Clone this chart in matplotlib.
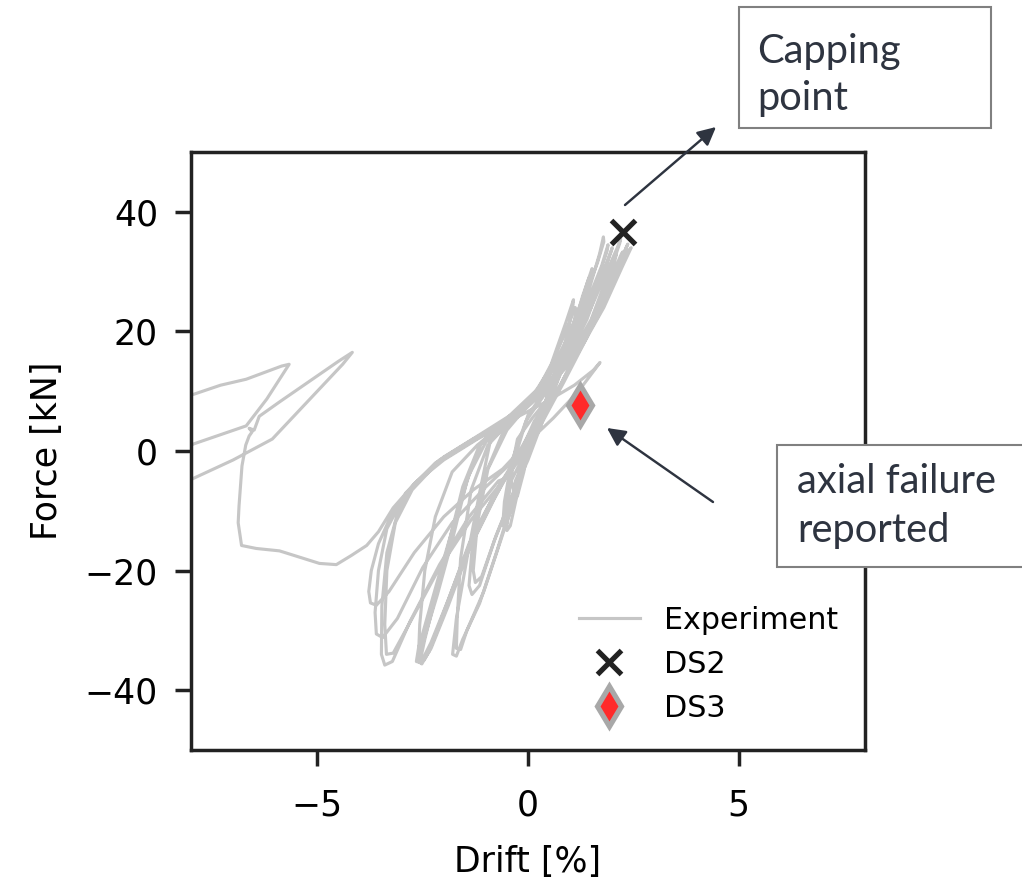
import numpy as np
import matplotlib
matplotlib.use('Agg')
import matplotlib.pyplot as plt
from matplotlib.patches import Rectangle

# cyclic test, one list per loop (drift in %, force in kN)
loop_drift = [
    [0.0, 0.2, 0.4, 0.5, 0.52, 0.4, 0.15, -0.1, -0.25, -0.3, -0.25, -0.1, 0.0],
    [0.0, 0.25, 0.45, 0.6, 0.62, 0.45, 0.1, -0.25, -0.45, -0.5, -0.42, -0.2, 0.0],
    [0.0, 0.35, 0.7, 0.9, 0.95, 0.85, 0.5, 0.0, -0.35, -0.48, -0.5, -0.42, -0.2, 0.0],
    [0.0, 0.3, 0.65, 0.85, 0.9, 0.8, 0.45, -0.05, -0.4, -0.56, -0.6, -0.5, -0.25, 0.0],
    [0.0, 0.35, 0.7, 0.95, 1.07, 1.08, 0.9, 0.55, 0.1, -0.5, -0.95, -1.2, -1.3, -1.25,
     -1.1, -0.75, -0.35, 0.0],
    [0.0, 0.4, 0.8, 1.05, 1.15, 1.12, 0.9, 0.5, 0.0, -0.6, -1.05, -1.3, -1.4, -1.33,
     -1.15, -0.8, -0.4, -0.1],
    [-0.1, 0.35, 0.8, 1.15, 1.4, 1.52, 1.53, 1.35, 0.95, 0.4, -0.3, -0.9, -1.15, -1.45,
     -1.7, -1.79, -1.7, -1.55, -1.15, -0.75, -0.4],
    [-0.3, 0.2, 0.7, 1.05, 1.3, 1.45, 1.47, 1.3, 0.9, 0.35, -0.35, -0.95, -1.35, -1.6,
     -1.68, -1.7, -1.6, -1.45, -1.05, -0.65, -0.3],
    [-0.4, 0.1, 0.6, 1.05, 1.45, 1.7, 1.79, 1.8, 1.65, 1.25, 0.75, 0.25, -0.5, -1.1,
     -1.45, -1.8, -2.15, -2.45, -2.6, -2.52, -2.35, -1.95, -1.45, -0.85],
    [-0.85, -0.2, 0.4, 0.9, 1.35, 1.7, 1.88, 1.9, 1.75, 1.3, 0.8, 0.3, -0.45, -1.15,
     -1.55, -1.9, -2.2, -2.45, -2.55, -2.47, -2.3, -1.9, -1.4, -0.8],
    [-0.8, -0.2, 0.4, 0.9, 1.4, 1.8, 1.97, 2.0, 1.85, 1.4, 0.9, 0.35, -0.4, -1.2, -1.8,
     -2.2, -2.45, -2.57, -2.6, -2.5, -2.3, -1.9, -1.3, -0.7],
    [-0.7, -0.1, 0.5, 1.0, 1.5, 1.9, 2.12, 2.2, 2.18, 2.0, 1.6, 1.0, 0.4, -0.3, -1.0,
     -1.4, -1.75, -2.1, -2.4, -2.6, -2.65, -2.55, -2.35, -1.95, -1.4, -0.7],
    [-0.7, 0.0, 0.7, 1.3, 1.8, 2.15, 2.33, 2.37, 2.2, 1.7, 1.1, 0.4, -0.4, -1.3, -2.1,
     -2.7, -3.1, -3.35, -3.47, -3.48, -3.4, -3.22, -2.8, -2.1, -1.4, -0.7],
    [-0.5, 0.2, 0.85, 1.4, 1.85, 2.15, 2.25, 2.22, 2.0, 1.5, 0.9, 0.3, -0.5, -1.35,
     -2.15, -2.75, -3.15, -3.35, -3.4, -3.36, -3.2, -2.75, -2.1, -1.35, -0.65],
    [-0.6, 0.1, 0.8, 1.4, 1.8, 2.05, 2.1, 1.95, 1.5, 0.9, 0.3, -0.5, -1.4, -2.2, -2.9,
     -3.35, -3.55, -3.63, -3.6, -3.45, -3.1, -2.5, -1.8, -1.0, -0.4],
    [-0.4, 0.3, 1.0, 1.6, 2.1, 2.38, 2.45, 2.25, 1.8, 1.2, 0.5, -0.3, -1.2, -2.0, -2.7,
     -3.2, -3.55, -3.72, -3.78, -3.74, -3.6, -3.3, -2.7, -2.0, -1.3, -0.6],
]
loop_force = [
    [0.0, 4.0, 8.0, 10.0, 9.5, 7.5, 5.0, 1.0, -5.0, -8.0, -7.5, -3.5, 0.0],
    [0.0, 4.5, 9.0, 12.0, 11.3, 8.5, 5.5, 2.0, -5.0, -9.5, -9.0, -4.0, 0.0],
    [0.0, 6.0, 12.0, 16.5, 17.5, 16.0, 11.0, 6.0, -2.0, -9.0, -13.3, -12.5, -5.5, 0.0],
    [0.0, 5.0, 11.0, 15.5, 16.5, 15.0, 10.0, 5.0, -2.0, -8.5, -12.5, -12.0, -6.0, 0.0],
    [0.0, 6.0, 13.0, 20.0, 24.5, 25.3, 21.5, 14.5, 8.5, 3.5, -3.0, -12.0, -20.0, -22.0,
     -21.0, -14.0, -7.0, -1.5],
    [-1.5, 6.0, 13.5, 20.0, 23.5, 24.0, 20.0, 13.5, 8.0, 3.0, -4.5, -14.0, -22.5, -24.0,
     -22.5, -15.0, -8.0, -3.0],
    [-2.0, 6.0, 14.5, 22.0, 28.0, 30.5, 30.0, 26.5, 19.0, 11.5, 6.0, 1.5, -7.0, -18.0,
     -28.0, -34.0, -34.3, -31.5, -25.5, -17.0, -9.0],
    [-5.0, 3.0, 12.5, 20.0, 26.0, 29.0, 28.5, 25.0, 18.0, 11.0, 5.5, 1.0, -6.5, -18.0,
     -28.0, -33.0, -33.2, -30.0, -23.5, -15.0, -7.5],
    [-5.0, 2.0, 10.0, 18.5, 27.0, 33.0, 35.8, 35.0, 31.5, 24.0, 16.0, 10.5, 5.5, 1.5,
     -5.0, -15.0, -24.0, -31.0, -35.2, -35.6, -33.5, -26.5, -17.0, -8.5],
    [-8.5, -0.5, 7.5, 15.0, 23.0, 29.5, 33.5, 34.5, 31.0, 23.0, 15.5, 10.5, 5.5, 1.0,
     -6.0, -16.0, -24.5, -31.5, -34.8, -35.0, -33.0, -26.0, -16.5, -8.0],
    [-8.0, 0.0, 7.5, 15.0, 23.0, 30.0, 33.3, 34.0, 31.0, 22.0, 15.0, 10.5, 5.5, 1.0,
     -3.5, -11.0, -20.0, -29.0, -34.5, -34.8, -32.0, -25.0, -14.0, -6.0],
    [-6.0, 1.0, 9.0, 16.5, 24.0, 30.5, 34.0, 35.5, 34.8, 31.0, 23.0, 15.0, 10.0, 5.5,
     1.5, -4.0, -12.0, -20.5, -28.0, -33.0, -35.2, -35.4, -33.5, -26.0, -15.5, -6.0],
    [-6.0, 1.5, 10.0, 18.0, 25.0, 30.5, 34.0, 34.6, 32.0, 23.0, 15.5, 10.0, 5.5, 2.0,
     -1.5, -5.5, -10.5, -17.0, -26.0, -34.0, -35.8, -35.2, -28.5, -19.0, -11.0, -5.0],
    [-4.5, 3.0, 11.5, 19.0, 26.0, 31.0, 33.3, 33.0, 29.5, 21.5, 14.5, 9.5, 5.0, 1.5,
     -2.0, -6.5, -12.0, -20.0, -29.0, -34.0, -33.8, -28.0, -19.5, -11.5, -5.5],
    [-5.0, 2.5, 11.5, 20.0, 27.0, 31.5, 33.0, 30.5, 22.0, 14.5, 9.5, 5.0, 1.5, -2.0,
     -7.0, -13.0, -20.0, -27.0, -30.6, -31.2, -28.0, -19.5, -12.0, -6.0, -2.0],
    [-3.0, 5.0, 14.0, 22.5, 29.5, 33.5, 34.0, 31.0, 24.0, 16.5, 11.0, 6.5, 2.5, -1.0,
     -5.5, -10.0, -15.5, -20.0, -23.5, -25.4, -25.8, -23.5, -17.0, -11.0, -6.5, -3.0],
]

# last excursion and collapse towards large negative drift
collapse_drift = [-0.6, 0.0, 0.6, 1.2, 1.71, 1.55, 1.1, 0.5, -0.3, -1.2, -2.0, -2.7,
                  -3.2, -3.55, -3.83, -4.2, -4.55, -4.95, -5.4, -5.9, -6.45, -6.8,
                  -6.88, -6.86, -6.79, -6.7, -6.62, -6.55, -6.62, -6.5, -6.38, -5.9,
                  -5.12, -4.5, -4.17, -4.4, -5.0, -5.6, -6.07, -7.0, -7.98, -8.6,
                  -8.6, -7.93, -6.69, -6.2, -5.67, -5.85, -6.69, -7.3, -7.93, -8.6]
collapse_force = [-3.0, 1.5, 5.5, 10.0, 14.8, 13.5, 11.0, 8.5, 5.5, 2.0, -1.5, -5.5,
                  -9.5, -13.5, -15.8, -17.5, -19.0, -18.8, -17.8, -16.7, -16.3, -15.8,
                  -12.0, -9.2, -2.5, 1.0, 2.5, 3.2, 3.8, 3.5, 5.8, 8.2,
                  12.0, 15.0, 16.5, 14.5, 10.0, 5.5, 2.0, -1.5, -4.7, -6.0,
                  -1.0, 1.2, 4.2, 8.7, 14.5, 14.2, 12.0, 11.0, 9.5, 8.5]

ds2_drift, ds2_force = [2.26], [36.7]
ds3_drift, ds3_force = [1.24], [7.7]

W, H = 1022, 879
fig = plt.figure(figsize=(W / 250, H / 250), dpi=250)
ax = fig.add_axes([191 / W, (H - 750) / H, 674 / W, 598 / H])

drift = np.concatenate([np.array(d) for d in loop_drift] + [np.array(collapse_drift)])
force = np.concatenate([np.array(f) for f in loop_force] + [np.array(collapse_force)])

ax.plot(drift, force, color='#c6c6c6', lw=0.9, label='Experiment')
ax.plot(ds2_drift, ds2_force, 'x', color='#222222', ms=7, mew=1.5, label='DS2', zorder=4)
ax.plot(ds3_drift, ds3_force, 'd', mfc='#ff2a2a', mec='#a8a8a8', ms=8, mew=1.5,
        label='DS3', zorder=5)

ax.set_xlim(-8, 8)
ax.set_ylim(-50, 50)
ax.set_xticks([-5, 0, 5])
ax.set_yticks([-40, -20, 0, 20, 40])
ax.set_xlabel('Drift [%]', labelpad=6.5)
ax.set_ylabel('Force [kN]', labelpad=6)
for sp in ax.spines.values():
    sp.set_linewidth(1.0)
    sp.set_color('#222222')
ax.tick_params(width=1.0, length=4.5, color='#222222')
ax.tick_params(axis='x', pad=6.5)
ax.tick_params(axis='y', pad=5)
ax.legend(loc='lower right', frameon=False, fontsize=8.7)

# callout boxes
note_color = '#2e3440'
note_font = ['Lato', 'DejaVu Sans']


def fx(px):
    return px / W


def fy(py):
    return (H - py) / H


fig.patches.append(Rectangle((fx(739), fy(128)), fx(991) - fx(739), fy(7) - fy(128),
                             transform=fig.transFigure, fill=False,
                             edgecolor='#808080', lw=0.6))
fig.patches.append(Rectangle((fx(777), fy(567)), fx(1040) - fx(777), fy(445) - fy(567),
                             transform=fig.transFigure, facecolor='white',
                             edgecolor='#808080', lw=0.6, zorder=3))

for txt, px, py in [('Capping', 757, 63), ('point', 757, 110),
                    ('axial failure', 797, 493), ('reported', 797, 542)]:
    fig.text(fx(px), fy(py), txt, family=note_font, fontsize=11.5,
             color=note_color, va='baseline', ha='left', zorder=4)

ax.annotate('', xy=(716, H - 127), xycoords='figure pixels',
            xytext=(625, H - 205), textcoords='figure pixels',
            arrowprops=dict(arrowstyle='-|>', color=note_color, lw=0.7,
                            mutation_scale=11, shrinkA=0, shrinkB=0))
ax.annotate('', xy=(607, H - 428), xycoords='figure pixels',
            xytext=(713, H - 502), textcoords='figure pixels',
            arrowprops=dict(arrowstyle='-|>', color=note_color, lw=0.7,
                            mutation_scale=11, shrinkA=0, shrinkB=0))

fig.savefig('out.png', dpi=250)
